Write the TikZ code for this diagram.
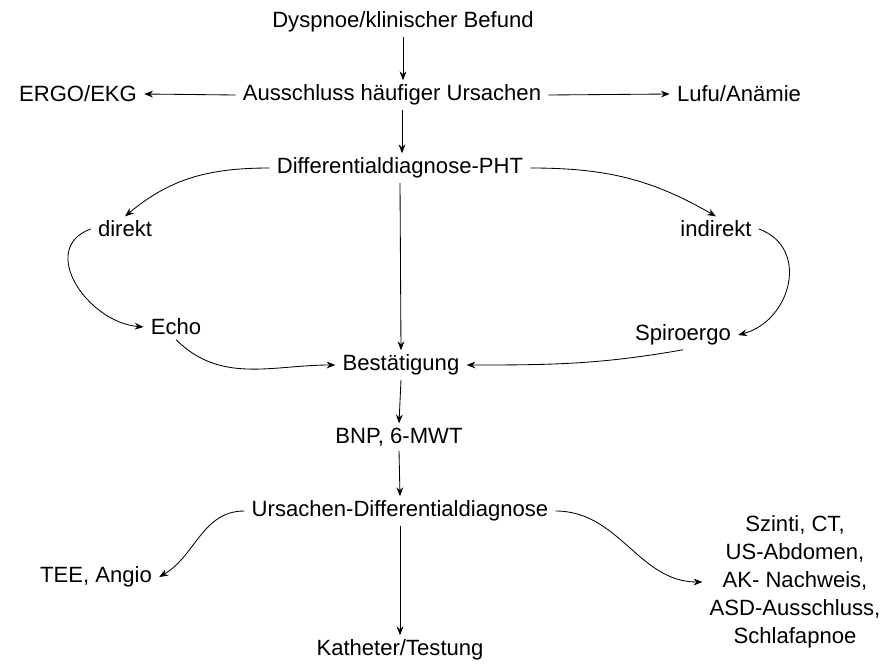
\documentclass[tikz,border=0pt]{standalone}
\usepackage{fontspec}
\setmainfont{Liberation Sans}
\usetikzlibrary{arrows.meta}
\tikzset{
  feld/.style={inner xsep=5pt,inner ysep=3pt,font=\fontsize{15.7}{19.9}\selectfont,align=center},
  pfeil/.style={line width=0.6pt,-{Stealth[length=2.2mm,width=1.7mm]}}
}

\begin{document}
\begin{tikzpicture}[x=0.025cm,y=-0.025cm]
\useasboundingbox (0,0) rectangle (888,664);
% Knoten
\node[feld] (dys) at (403,22) {Dyspnoe/klinischer Befund};
\node[feld] (aus) at (392,95) {Ausschluss häufiger Ursachen};
\node[feld] (ergo) at (78,94) {ERGO/EKG};
\node[feld] (lufu) at (739,94) {Lufu/Anämie};
\node[feld] (diff) at (400,168) {Differentialdiagnose-PHT};
\node[feld] (dir) at (125,229) {direkt};
\node[feld] (indir) at (716,229) {indirekt};
\node[feld] (echo) at (176,327) {Echo};
\node[feld] (spiro) at (683,335) {Spiroergo};
\node[feld] (best) at (401,365) {Bestätigung};
\node[feld] (bnp) at (399,437) {BNP, 6-MWT};
\node[feld] (urs) at (400,511) {Ursachen-Differentialdiagnose};
\node[feld] (tee) at (96,577) {TEE, Angio};
\node[feld] (kath) at (400,650) {Katheter/Testung};
\node[feld] (rest) at (795,582) {Szinti, CT,\\US-Abdomen,\\AK- Nachweis,\\ASD-Ausschluss,\\Schlafapnoe};
% Pfeile
\draw[pfeil] (dys.south -| 403,0) -- (aus.north -| 403,0);
\draw[pfeil] (aus.west) -- (ergo.east);
\draw[pfeil] (aus.east) -- (lufu.west);
\draw[pfeil] (aus.south -| 402,0) -- (diff.north -| 402,0);
\draw[pfeil] (diff.west) to[out=180,in=40] (dir.north);
\draw[pfeil] (diff.east) to[out=0,in=150] (indir.north);
\draw[pfeil] (diff.south) -- (best.north);
\draw[pfeil] (dir.west) to[out=200,in=175,looseness=1.3] (echo.west);
\draw[pfeil] (indir.east) to[out=-20,in=15,looseness=1.3] (spiro.east);
\draw[pfeil] (echo.south) to[out=-45,in=180] (best.west);
\draw[pfeil] (spiro.south) to[out=190,in=0] (best.east);
\draw[pfeil] (best.south) -- (bnp.north);
\draw[pfeil] (bnp.south) -- (urs.north);
\draw[pfeil] (urs.west) to[out=180,in=30] (tee.east);
\draw[pfeil] (urs.south) -- (kath.north);
\draw[pfeil] (urs.east) to[out=0,in=180] (rest.west);
\end{tikzpicture}
\end{document}
